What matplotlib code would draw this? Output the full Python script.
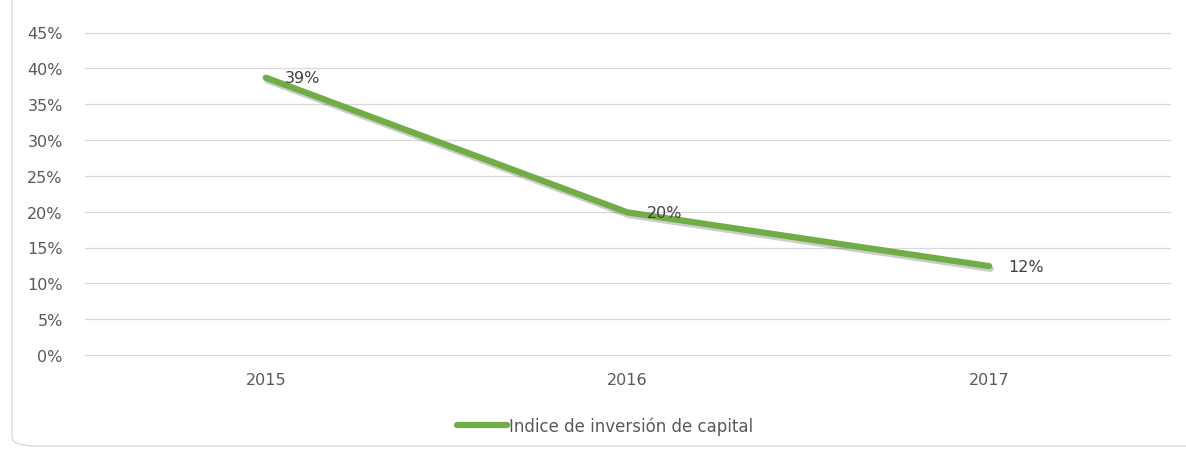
import matplotlib
matplotlib.use("Agg")
import matplotlib.pyplot as plt
import matplotlib.patheffects as pe
from matplotlib.patches import FancyBboxPatch
from matplotlib.ticker import FuncFormatter, MultipleLocator

years = ["2015", "2016", "2017"]
values = [0.387, 0.199, 0.124]
series_name = "Indice de inversión de capital"

fig = plt.figure(figsize=(11.86, 4.52), dpi=100)
fig.patch.set_facecolor("white")

# outer chart frame (rounded, partly cropped)
frame = FancyBboxPatch((12 / 1186, 5 / 452), 1.2, 1.2,
                       boxstyle="round,pad=0,rounding_size=0.02",
                       transform=fig.transFigure, facecolor="none",
                       edgecolor="#d9d9d9", linewidth=1.0, zorder=0)
fig.patches.append(frame)

ax = fig.add_axes([85 / 1186, 1 - 356 / 452, (1170 - 85) / 1186, (356 - 33.5) / 452])
x = list(range(len(years)))
color = "#70ad47"
line, = ax.plot(x, values, color=color, linewidth=4.5, solid_capstyle="round",
                label=series_name, zorder=3,
                path_effects=[pe.SimpleLineShadow(offset=(1.0, -2.0), shadow_color="#000000", alpha=0.2),
                              pe.Normal()])

for xi, v in zip(x, values):
    ax.annotate(f"{round(v * 100):.0f}%", (xi, v), xytext=(14, 0), textcoords="offset points",
                ha="left", va="center", fontsize=11.5, color="#404040", zorder=4)

ax.set_xlim(-0.5, 2.5)
ax.set_ylim(0, 0.45)
ax.yaxis.set_major_locator(MultipleLocator(0.05))
ax.yaxis.set_major_formatter(FuncFormatter(lambda v, p: f"{v * 100:.0f}%"))
ax.set_xticks(x)
ax.set_xticklabels(years)
ax.grid(axis="y", color="#d9d9d9", linewidth=0.9)
for gl in ax.get_ygridlines():
    gl.set_clip_on(False)
ax.set_axisbelow(True)
for s in ax.spines.values():
    s.set_visible(False)
ax.tick_params(axis="both", length=0, labelsize=11.5, labelcolor="#595959")
ax.tick_params(axis="y", pad=16)
ax.tick_params(axis="x", pad=12)

leg = fig.legend(handles=[line], labels=[series_name], loc="center",
                 bbox_to_anchor=(605 / 1186, 1 - 427 / 452), frameon=False,
                 fontsize=12, handlelength=3.0, handletextpad=0.1)
for t in leg.get_texts():
    t.set_color("#595959")
for h in leg.get_lines():
    h.set_path_effects([pe.Normal()])

fig.savefig("out.png", dpi=100)
